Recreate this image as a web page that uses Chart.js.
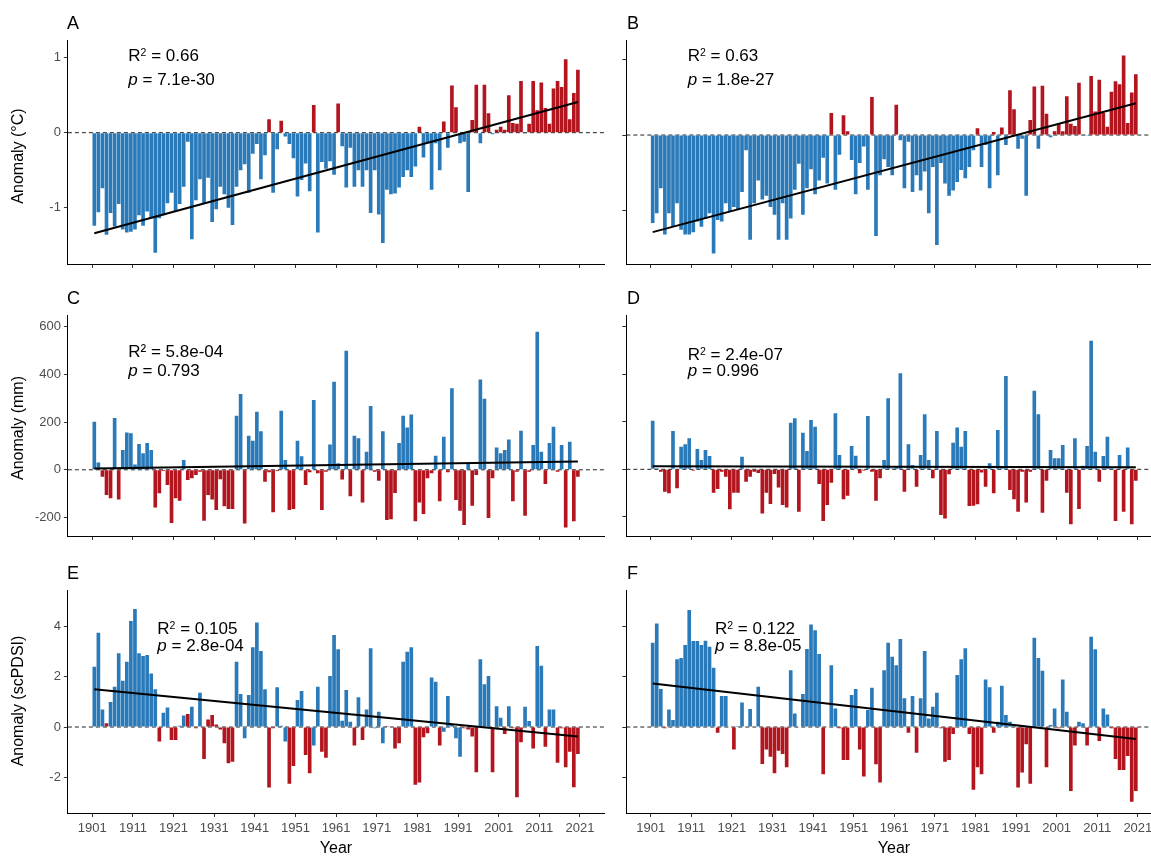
<!DOCTYPE html>
<html><head><meta charset="utf-8"><title>Anomalies 1901-2020</title>
<script src="https://cdn.jsdelivr.net/npm/chart.js@4.4.1/dist/chart.umd.min.js"></script>
<style>
html,body{margin:0;padding:0;background:#fff;}
body{position:relative;width:1151px;height:857px;overflow:hidden;font-family:"Liberation Sans",Arial,sans-serif;}
canvas{position:absolute;}
.t{position:absolute;white-space:nowrap;line-height:1;color:#000;}
.sup{font-size:10.5px;position:relative;top:-5px;}
</style></head><body>
<canvas id="cA"></canvas><canvas id="cB"></canvas>
<canvas id="cC"></canvas><canvas id="cD"></canvas>
<canvas id="cE"></canvas><canvas id="cF"></canvas>
<script>
// ---------------- data ----------------
const firstYear = 1901, lastYear = 2020;
const xTickYears = [1901, 1911, 1921, 1931, 1941, 1951, 1961, 1971, 1981, 1991, 2001, 2011, 2021];
const tempTicks = [-1, 0, 1];
const precipTicks = [-200, 0, 200, 400, 600];
const pdsiTicks = [-2, 0, 2, 4];

const tempA = [
 -1.24,-1.06,-0.74,-1.36,-1.07,-1.25,-0.95,-1.29,-1.33,-1.32,
 -1.29,-1.10,-1.24,-1.05,-1.14,-1.60,-1.14,-1.10,-0.94,-0.80,
 -1.05,-0.95,-0.72,-0.12,-1.42,-0.90,-0.62,-0.95,-0.60,-1.19,
 -1.02,-0.72,-0.82,-1.00,-1.23,-0.72,-0.50,-0.42,-0.80,-0.28,
 -0.15,-0.62,-0.30, 0.18,-0.80,-0.22, 0.16,-0.05,-0.15,-0.34,
 -0.85,-0.63,-0.41,-0.78, 0.37,-1.33,-0.39,-0.48,-0.38,-0.56,
  0.39,-0.18,-0.73,-0.20,-0.72,-0.50,-0.72,-0.50,-1.07,-0.50,
 -1.09,-1.47,-0.76,-0.82,-0.81,-0.73,-0.59,-0.50,-0.59,-0.45,
  0.08,-0.33,-0.14,-0.76,-0.14,-0.50, 0.15,-0.20, 0.63, 0.34,
 -0.14,-0.12,-0.79, 0.17, 0.64,-0.14, 0.64, 0.26,-0.02, 0.04,
  0.08, 0.04, 0.50, 0.13, 0.12, 0.69,-0.01, 0.12, 0.69, 0.30,
  0.67, 0.33, 0.12, 0.59, 0.69, 0.61, 0.98, 0.18, 0.53, 0.84];
const tempB = [
 -1.16,-1.03,-0.70,-1.31,-1.03,-1.21,-0.90,-1.25,-1.31,-1.31,
 -1.28,-1.14,-1.21,-1.10,-1.03,-1.56,-1.12,-1.14,-0.90,-1.00,
 -0.95,-0.98,-0.75,-0.20,-1.38,-0.90,-0.60,-0.85,-0.80,-0.95,
 -1.05,-1.38,-0.90,-1.38,-1.10,-0.72,-0.38,-1.05,-0.70,-0.45,
 -0.78,-0.60,-0.30,-0.64, 0.29,-0.72,-0.26, 0.26, 0.05,-0.33,
 -0.78,-0.37,-0.15,-0.72, 0.50,-1.33,-0.53,-0.32,-0.42,-0.53,
  0.40,-0.07,-0.70,-0.09,-0.75,-0.53,-0.73,-0.48,-1.03,-0.42,
 -1.45,-0.37,-0.64,-0.80,-0.73,-0.62,-0.46,-0.57,-0.42,-0.20,
  0.09,-0.42,-0.13,-0.70, 0.04,-0.53, 0.10,-0.13, 0.59, 0.34,
 -0.18,-0.05,-0.80, 0.20, 0.64,-0.18, 0.65, 0.28,-0.03, 0.05,
  0.15, 0.05, 0.51, 0.15, 0.12, 0.69,-0.01,-0.01, 0.78, 0.31,
  0.73, 0.29, 0.11, 0.57, 0.71, 0.67, 1.05, 0.16, 0.56, 0.80];
const precipC = [
  202,  31, -29,-106,-120, 218,-125,  83, 157, 153,
   22, 108,  69, 113,  83,-158, -99,  -5, -64,-223,
 -120,-130,  41, -43, -36, -22,  -8,-214,-106,-125,
 -169, -40,-153,-165,-165, 227, 318,-225, 143, 122,
  244, 162, -50, -10,-178,  -5, 248,  41,-169,-165,
  122,  57, -64, -10, 293, -15,-169,  -8, 106, 370,
   27, -41, 500,-111, 143, 132,-137,  76, 268,  -8,
  -46, 162,-211,-208, -97, 113, 227, 178, 232,-216,
 -137,-186, -36, -15,  59,-132, 139, -10, 342,-127,
 -172,-232,  27,-151, -22, 379, 298,-202, -36,  94,
   69,  83, 127,-132,  -8, 164,-193,  -8, 104, 580,
   76, -60, 113, 181,  -8, 104,-242, 118,-216, -29];
const precipD = [
  204,   5, -10, -94,-101, 161, -80,  95, 105, 130,
   -5,  85,  39,  81,  56, -98, -83, -10, -31,-168,
  -98, -98,  53, -52, -31, -10, -15,-185, -98,-146,
  -20, -76,-150,-160, 196, 214,-178, 154,  77, 207,
  179, -62,-217,-150, -56, 235,  60,-126,-111,  98,
   57, -17,  -5, 224, -10,-132, -38,  39, 298,   5,
   14, 403, -94, 105,  18, -73,  60, 231,  39, -38,
  161,-192,-206, -21, 112, 176,  95, 161,-154,-153,
 -147, -13, -73,  25,-101, 165,  14, 392, -87,-126,
 -178, -10,-139, -10, 330, 231,-182, -48,  81,  46,
   46, 102, -98,-231, 130,-167,  15,  98, 540,  74,
  -52,  56, 137,   5,-217,  60,-178,  92,-231, -48];
const scpdsiE = [
  2.40, 3.75, 0.70, 0.15, 1.00, 1.60, 2.93, 1.84, 2.60, 4.22,
  4.69, 2.93, 2.82, 2.86, 2.13, 1.50,-0.58, 0.57, 0.78,-0.52,
 -0.52, 0.05, 0.46, 0.52, 0.81,-0.05, 1.36,-1.27, 0.30, 0.48,
  0.10,-0.10,-0.65,-1.44,-1.38, 2.60, 1.31,-0.45, 1.27, 3.17,
  4.16, 3.02, 1.50,-2.41,-0.05, 1.58, 0.05,-0.58,-2.26,-1.55,
  1.07, 1.43,-1.11,-1.84,-0.74, 1.60,-0.98,-1.22, 2.03, 3.66,
  3.09, 0.25, 1.47, 0.21,-0.74, 1.18,-0.52, 0.70, 3.13,-0.05,
  0.61,-0.65, 0.04, 0.02,-0.85,-0.65, 2.60, 2.99, 3.17,-2.30,
 -2.21,-0.41,-0.25, 1.97, 1.80,-0.74,-0.19, 1.23, 0.10,-0.45,
 -1.18,-0.05,-0.10,-0.38,-1.80, 2.70, 1.70, 2.03,-1.80, 0.83,
  0.37,-0.28, 0.83,-0.05,-2.79,-0.61, 0.81, 0.24,-0.85, 3.22,
  2.44,-0.78, 0.70, 0.70,-1.42,-0.05,-1.60,-0.98,-2.40,-1.07];
// years in panel E whose bar colour class differs from the sign of the value
const scpdsiEClassFlipYears = [1904, 1924, 1929, 1930, 1931, 1938, 1948, 1955, 1970, 1972, 1973, 1974, 1987, 1990, 1991];
const scpdsiF = [
  3.35, 4.12, 1.51,-0.05, 0.70, 0.28, 2.70, 2.75, 3.26, 4.65,
  3.42, 3.42, 3.26, 3.43, 3.19, 2.36,-0.23, 1.23, 1.23, 0.02,
 -0.89, 0.04, 0.98, 0.02, 0.72, 0.02, 1.60,-1.47,-0.89,-1.18,
 -1.84,-0.94,-1.07,-1.60, 2.26, 0.54, 0.02, 1.31, 3.10, 4.08,
  3.85, 2.90,-1.88, 0.02, 2.46, 0.74,-0.05,-1.31,-1.31, 1.27,
  1.51,-0.89,-1.97, 0.68, 1.56,-1.48,-2.21, 2.26, 3.35, 2.79,
  2.46, 3.50, 1.14,-0.23, 1.23,-1.02, 1.14, 3.02, 0.34, 0.81,
  1.36,-0.05,-1.38,-1.31,-0.28, 2.07, 2.70, 3.13,-0.28,-2.50,
 -1.60,-1.88, 1.89, 1.58,-0.23, 0.21, 1.64, 0.48, 0.21, 0.05,
 -2.41,-1.81,-0.69,-2.26, 3.55, 2.75, 2.24,-1.60, 0.08, 0.74,
 -0.05, 1.89, 0.61,-2.54,-0.74, 0.21, 0.15,-0.74, 3.59, 3.09,
 -0.56, 0.74, 0.50,-0.05,-1.27,-1.71,-1.71,-1.15,-2.97,-2.54];
// linear trend (fitted value at first and last year)
const trendA = [-1.34, 0.41];
const trendB = [-1.28, 0.42];
const trendC = [5, 35];
const trendD = [13, 9];
const trendE = [1.50, -0.38];
const trendF = [1.73, -0.48];

// ---------------- drawing ----------------
const years = [];
for (let y = firstYear; y <= lastYear; y++) years.push(y);
const BLUE = '#2A7AB9', RED = '#B3151F';
const FONT = '"Liberation Sans", Arial, sans-serif';
const X_MIN = 1895, X_MAX = 2027;

const warmRed = v => v > 0 ? RED : BLUE;
const wetBlue = v => v >= 0 ? BLUE : RED;
const wetBlueE = (v, yr) => {
  const c = v >= 0 ? BLUE : RED;
  return scpdsiEClassFlipYears.includes(yr) ? (c === BLUE ? RED : BLUE) : c;
};

const col1 = {L: 0, W: 612, x0: 67.9, x1: 604.3};
const col2 = {L: 612, W: 560, x0: 626.3, x1: 1162.2};
const row1 = {T: 28, H: 252, y0: 40, y1: 264};
const row2 = {T: 303, H: 250, y0: 315, y1: 536};
const row3 = {T: 578, H: 279, y0: 590, y1: 813};

const panels = [
  {id:'A', vals:tempA, trend:trendA, col:col1, row:row1, yMin:-1.751, yMax:1.236, ticks:tempTicks, showY:true, showX:false, color:warmRed},
  {id:'B', vals:tempB, trend:trendB, col:col2, row:row1, yMin:-1.70, yMax:1.253, ticks:tempTicks, showY:false, showX:false, color:warmRed},
  {id:'C', vals:precipC, trend:trendC, col:col1, row:row2, yMin:-278, yMax:650, ticks:precipTicks, showY:true, showX:false, color:wetBlue},
  {id:'D', vals:precipD, trend:trendD, col:col2, row:row2, yMin:-280, yMax:648, ticks:precipTicks, showY:false, showX:false, color:wetBlue},
  {id:'E', vals:scpdsiE, trend:trendE, col:col1, row:row3, yMin:-3.42, yMax:5.45, ticks:pdsiTicks, showY:true, showX:true, color:wetBlueE},
  {id:'F', vals:scpdsiF, trend:trendF, col:col2, row:row3, yMin:-3.42, yMax:5.45, ticks:pdsiTicks, showY:false, showX:true, color:wetBlue}
];

panels.forEach(p => {
  const cv = document.getElementById('c' + p.id);
  const L = p.col.L, T = p.row.T, W = p.col.W, H = p.row.H;
  cv.width = W; cv.height = H;
  cv.style.left = L + 'px'; cv.style.top = T + 'px';
  cv.style.width = W + 'px'; cv.style.height = H + 'px';
  const yW = p.col.x0 - L, xH = (T + H) - p.row.y1;
  const padTop = p.row.y0 - T, padRight = (L + W) - p.col.x1;
  const bars = years.map((yr, i) => ({x: yr + 0.5, y: p.vals[i]}));
  const colors = years.map((yr, i) => p.color(p.vals[i], yr));
  const trendPts = [{x: years[0] + 0.5, y: p.trend[0]}, {x: years[years.length - 1] + 0.5, y: p.trend[1]}];
  const zeroPts = [{x: X_MIN, y: 0}, {x: X_MAX, y: 0}];
  new Chart(cv, {
    type: 'bar',
    data: {datasets: [
      {type: 'line', data: trendPts, borderColor: '#000', borderWidth: 2, pointRadius: 0, fill: false, tension: 0},
      {type: 'bar', data: bars, backgroundColor: colors, borderWidth: 0, barPercentage: 0.9, categoryPercentage: 1},
      {type: 'line', data: zeroPts, borderColor: '#222', borderWidth: 1, borderDash: [4, 3], pointRadius: 0, fill: false}
    ]},
    options: {
      responsive: false, animation: false, devicePixelRatio: 1,
      layout: {autoPadding: false, padding: {top: padTop, right: padRight, left: 0, bottom: 0}},
      plugins: {legend: {display: false}, tooltip: {enabled: false}},
      scales: {
        x: {
          type: 'linear', min: X_MIN, max: X_MAX, offset: false,
          afterBuildTicks: s => { s.ticks = xTickYears.map(v => ({value: v})); },
          afterFit: s => { s.height = xH; },
          grid: {offset: false, drawOnChartArea: false, drawTicks: true, tickLength: 4, color: '#333'},
          border: {display: true, color: '#000', width: 1},
          ticks: {display: p.showX, color: '#4D4D4D', font: {family: FONT, size: 13}, padding: 4,
                  maxRotation: 0, autoSkip: false, callback: v => String(v)}
        },
        y: {
          min: p.yMin, max: p.yMax,
          afterBuildTicks: s => { s.ticks = p.ticks.map(v => ({value: v})); },
          afterFit: s => { s.width = yW; },
          grid: {drawOnChartArea: false, drawTicks: true, tickLength: 4, color: '#333'},
          border: {display: true, color: '#000', width: 1},
          ticks: {display: p.showY, color: '#4D4D4D', font: {family: FONT, size: 13}, padding: 3,
                  callback: v => String(v)}
        }
      }
    }
  });
});

// ---------------- text ----------------
function addText(html, left, baseline, size, extra) {
  const d = document.createElement('div');
  d.className = 't';
  d.innerHTML = html;
  d.style.left = left + 'px';
  d.style.top = (baseline - 0.8465 * size) + 'px';
  d.style.fontSize = size + 'px';
  if (extra) Object.assign(d.style, extra);
  document.body.appendChild(d);
  return d;
}
function addCentered(html, cx, cy, size, rotate) {
  const d = document.createElement('div');
  d.className = 't';
  d.innerHTML = html;
  d.style.fontSize = size + 'px';
  d.style.left = cx + 'px';
  d.style.top = cy + 'px';
  d.style.transform = 'translate(-50%,-50%)' + (rotate ? ' rotate(-90deg)' : '');
  document.body.appendChild(d);
}
const R2 = '<span>R</span><span class="sup">2</span> = ';
const P = '<i>p</i> = ';
const annotations = [
  {x: 128.3, y1: 61.7, y2: 85, r: R2 + '0.66', p: P + '7.1e-30'},
  {x: 687.7, y1: 61.7, y2: 85, r: R2 + '0.63', p: P + '1.8e-27'},
  {x: 128.3, y1: 357.3, y2: 376, r: 'R² = 5.8e-04', p: P + '0.793'},
  {x: 687.7, y1: 360, y2: 376, r: R2 + '2.4e-07', p: P + '0.996'},
  {x: 157.3, y1: 634.3, y2: 651.7, r: R2 + '0.105', p: P + '2.8e-04'},
  {x: 715, y1: 634.3, y2: 651.7, r: R2 + '0.122', p: P + '8.8e-05'}
];
annotations.forEach(a => { addText(a.r, a.x, a.y1, 17); addText(a.p, a.x, a.y2, 17); });

[['A', 67, 29], ['B', 627, 29], ['C', 67, 304], ['D', 627, 304], ['E', 67, 579], ['F', 627, 579]]
  .forEach(l => addText(l[0], l[1], l[2], 18));

addCentered('Anomaly (°C)', 18, 156, 16, true);
addCentered('Anomaly (mm)', 18, 428, 16, true);
addCentered('Anomaly (scPDSI)', 18, 701, 16, true);
addCentered('Year', 336, 848, 16, false);
addCentered('Year', 894, 848, 16, false);
</script>
</body></html>
